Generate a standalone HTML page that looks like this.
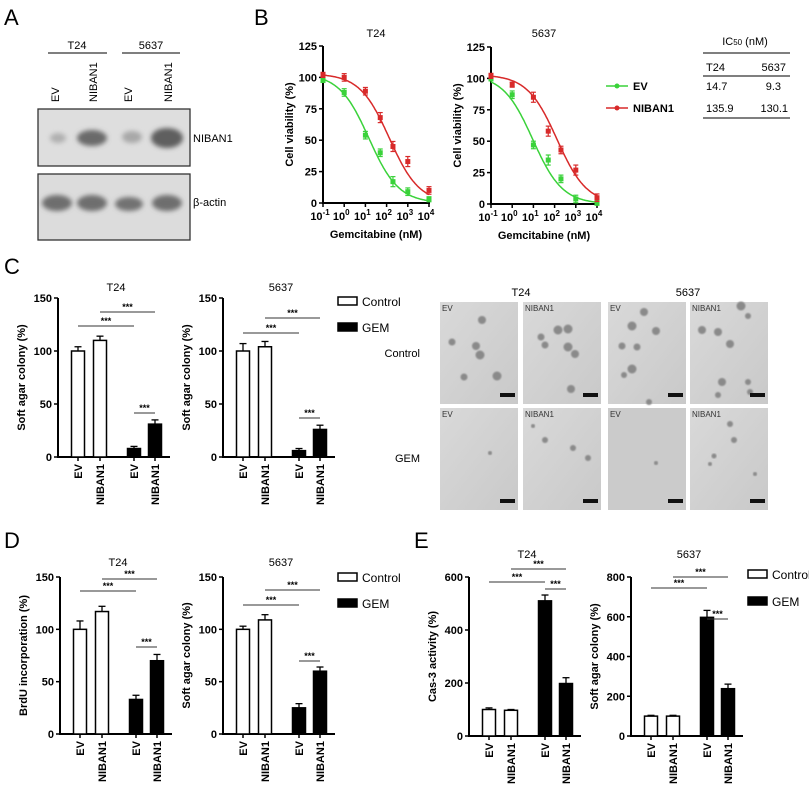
<!DOCTYPE html>
<html><head><meta charset="utf-8"><style>
body{margin:0;background:#fff}
svg{display:block;font-family:"Liberation Sans",Arial,sans-serif}
.tk{font-size:11px;font-weight:bold}
.al{font-size:11px;font-weight:bold}
.tt{font-size:11px}
.pl{font-size:22px}
</style></head><body>
<svg id="fig" width="809" height="788" viewBox="0 0 809 788" xmlns="http://www.w3.org/2000/svg">
<defs>
<filter id="bl" x="-50%" y="-50%" width="200%" height="200%"><feGaussianBlur stdDeviation="2.5"/></filter>
<filter id="bl1"><feGaussianBlur stdDeviation="0.8"/></filter>
<linearGradient id="tileg" x1="0" y1="0" x2="1" y2="1"><stop offset="0" stop-color="#d9d9d9"/><stop offset="1" stop-color="#c9c9c9"/></linearGradient>
</defs>
<g>
<text class="pl" x="4" y="25">A</text>
<text class="tt" x="77" y="49" text-anchor="middle">T24</text>
<line x1="48" y1="53" x2="107" y2="53" stroke="#333" stroke-width="1.2"/>
<text class="tt" x="151" y="49" text-anchor="middle">5637</text>
<line x1="122" y1="53" x2="180" y2="53" stroke="#333" stroke-width="1.2"/>
<text class="tt" transform="translate(59,102) rotate(-90)">EV</text>
<text class="tt" transform="translate(97,102) rotate(-90)">NIBAN1</text>
<text class="tt" transform="translate(132,102) rotate(-90)">EV</text>
<text class="tt" transform="translate(172,102) rotate(-90)">NIBAN1</text>
<g>
<rect x="38" y="109" width="152" height="57" fill="#dedede" stroke="#333" stroke-width="1.3"/>
<ellipse cx="58" cy="138" rx="8" ry="5" fill="#b0b0b0" filter="url(#bl)"/>
<ellipse cx="92" cy="138" rx="15" ry="8" fill="#6a6a6a" filter="url(#bl)"/>
<ellipse cx="132" cy="137" rx="10" ry="6" fill="#a8a8a8" filter="url(#bl)"/>
<ellipse cx="167" cy="138" rx="16" ry="10" fill="#5e5e5e" filter="url(#bl)"/>
</g>
<text class="tt" x="193" y="142">NIBAN1</text>
<g>
<rect x="38" y="174" width="152" height="66" fill="#dcdcdc" stroke="#333" stroke-width="1.3"/>
<ellipse cx="57" cy="203" rx="15" ry="8" fill="#6e6e6e" filter="url(#bl)"/>
<ellipse cx="92" cy="203" rx="15" ry="8" fill="#6e6e6e" filter="url(#bl)"/>
<ellipse cx="129" cy="204" rx="14" ry="7" fill="#727272" filter="url(#bl)"/>
<ellipse cx="167" cy="203" rx="15" ry="8" fill="#6e6e6e" filter="url(#bl)"/>
</g>
<text class="tt" x="193" y="206">β-actin</text>
</g>
<text class="pl" x="254" y="25">B</text>
<text class="pl" x="4" y="274">C</text>
<text class="pl" x="4" y="548">D</text>
<text class="pl" x="414" y="548">E</text>
<g>
<text class="tt" x="745" y="45" text-anchor="middle">IC<tspan font-size="8">50</tspan> (nM)</text>
<line x1="703" y1="53" x2="790" y2="53" stroke="#333" stroke-width="1.3"/>
<text class="tt" x="706" y="71">T24</text><text class="tt" x="786" y="71" text-anchor="end">5637</text>
<line x1="703" y1="76" x2="790" y2="76" stroke="#333" stroke-width="1.3"/>
<text class="tt" x="706" y="90">14.7</text><text class="tt" x="781" y="90" text-anchor="end">9.3</text>
<text class="tt" x="706" y="112">135.9</text><text class="tt" x="788" y="112" text-anchor="end">130.1</text>
<line x1="703" y1="118" x2="790" y2="118" stroke="#333" stroke-width="1.3"/>
</g>
<g>
<line x1="606" y1="86" x2="628" y2="86" stroke="#3ad23a" stroke-width="1.5"/><circle cx="617" cy="86" r="2.5" fill="#3ad23a"/>
<text class="al" x="633" y="90">EV</text>
<line x1="606" y1="108" x2="628" y2="108" stroke="#d82a2a" stroke-width="1.5"/><circle cx="617" cy="108" r="2.5" fill="#d82a2a"/>
<text class="al" x="633" y="112">NIBAN1</text>
</g>
<g id="micro">
<text class="tt" x="521" y="296" text-anchor="middle">T24</text>
<text class="tt" x="688" y="296" text-anchor="middle">5637</text>
<text class="tt" x="420" y="357" text-anchor="end">Control</text>
<text class="tt" x="420" y="462" text-anchor="end">GEM</text>
</g>
</svg>
<script>
// ===== Panel B data =====
const bLogConc = [-1, 0, 1, 1.7, 2.3, 3, 4];
const bT24Ev = [98, 88, 54, 40, 17, 9, 3];
const bT24EvErr = [2, 3, 3, 3, 4, 3, 2];
const bT24Nib = [102, 100, 89, 68, 45, 33, 10];
const bT24NibErr = [2, 3, 3, 4, 4, 4, 3];
const b5637Ev = [100, 87, 47, 35, 20, 4, 1];
const b5637EvErr = [2, 3, 3, 4, 3, 3, 2];
const b5637Nib = [102, 95, 85, 58, 43, 27, 5];
const b5637NibErr = [2, 2, 4, 4, 3, 4, 3];
const bIC50T24 = [14.7, 135.9];
const bIC50_5637 = [9.3, 130.1];
const bYTicks = [0, 25, 50, 75, 100, 125];
const bXTicks = [-1, 0, 1, 2, 3, 4];
// ===== Bar data =====
const barCats = ["EV", "NIBAN1", "EV", "NIBAN1"];
const cT24 = [100, 110, 8, 31];
const cT24Err = [4, 4, 2, 4];
const c5637 = [100, 104, 6, 26];
const c5637Err = [7, 5, 2, 4];
const dT24 = [100, 117, 33, 70];
const dT24Err = [8, 5, 4, 6];
const d5637 = [100, 109, 25, 60];
const d5637Err = [3, 5, 4, 4];
const eT24 = [100, 97, 510, 198];
const eT24Err = [6, 3, 22, 22];
const e5637 = [100, 100, 597, 238];
const e5637Err = [4, 4, 35, 23];
const ticks150 = [0, 50, 100, 150];
const ticks600 = [0, 200, 400, 600];
const ticks800 = [0, 200, 400, 600, 800];

const NS = "http://www.w3.org/2000/svg";
const svg = document.getElementById('fig');
function el(tag, attrs, parent, txt) {
  const e = document.createElementNS(NS, tag);
  for (const k in attrs) e.setAttribute(k, attrs[k]);
  if (txt !== undefined) e.textContent = txt;
  (parent || svg).appendChild(e);
  return e;
}

function curveChart(ax, y0, ytop, title, ev, evErr, nib, nibErr, ic50, name) {
  const g = el('g', {});
  
  
  const dec = 21.2;
  const xs = l => ax + (l - bXTicks[0]) * dec;
  const ys = v => y0 - v * (y0 - ytop) / 125;
  const axEnd = xs(bXTicks[bXTicks.length - 1]);
  el('text', {class: 'tt', x: (ax + axEnd) / 2, y: 37, 'text-anchor': 'middle'}, g, title);
  el('line', {x1: ax, y1: y0, x2: ax, y2: ytop, stroke: '#000', 'stroke-width': 2}, g);
  el('line', {x1: ax - 1, y1: y0, x2: axEnd + 1, y2: y0, stroke: '#000', 'stroke-width': 2}, g);
  bYTicks.forEach(t => {
    el('line', {x1: ax - 4, y1: ys(t), x2: ax, y2: ys(t), stroke: '#000', 'stroke-width': 1.5}, g);
    el('text', {class: 'tk', x: ax - 6, y: ys(t) + 4, 'text-anchor': 'end'}, g, String(t));
  });
  bXTicks.forEach(t => {
    el('line', {x1: xs(t), y1: y0, x2: xs(t), y2: y0 + 4, stroke: '#000', 'stroke-width': 1.5}, g);
    const tx = el('text', {class: 'tk', x: xs(t) - 3, y: y0 + 17, 'text-anchor': 'middle'}, g, '10');
    el('tspan', {dy: -5, 'font-size': 8}, tx, String(t));
  });
  const yl = el('text', {class: 'al', transform: `translate(${ax - 30},${(y0 + ytop) / 2}) rotate(-90)`, 'text-anchor': 'middle'}, g, 'Cell viability (%)');
  
  
  const xl = el('text', {class: 'al', x: (ax + axEnd) / 2, y: y0 + 35, 'text-anchor': 'middle'}, g, 'Gemcitabine (nM)');
  
  
  const series = [[ev, evErr, ic50[0], '#3ad23a', 'ev'], [nib, nibErr, ic50[1], '#d82a2a', 'niban1']];
  series.forEach(([vals, errs, ic, col, nm]) => {
    const lic = Math.log10(ic);
    let d = '';
    for (let l = bXTicks[0]; l <= bXTicks[bXTicks.length - 1] + 1e-9; l += 0.05) {
      const v = 103 / (1 + Math.pow(10, 0.62 * (l - lic)));
      d += (d ? 'L' : 'M') + xs(l).toFixed(1) + ',' + ys(v).toFixed(1);
    }
    const p = el('path', {d: d, fill: 'none', stroke: col, 'stroke-width': 1.5}, g);
    
    
    vals.forEach((v, i) => {
      const x = xs(bLogConc[i]), y = ys(v), e = errs[i] * (y0 - ytop) / 125;
      el('line', {x1: x, y1: y - e, x2: x, y2: y + e, stroke: col, 'stroke-width': 1.2}, g);
      el('line', {x1: x - 2.5, y1: y - e, x2: x + 2.5, y2: y - e, stroke: col, 'stroke-width': 1.2}, g);
      el('line', {x1: x - 2.5, y1: y + e, x2: x + 2.5, y2: y + e, stroke: col, 'stroke-width': 1.2}, g);
      const c = el('rect', {x: x - 2.5, y: y - 2.5, width: 5, height: 5, fill: col}, g);
      
      
    });
  });
}
curveChart(323, 203, 46, 'T24', bT24Ev, bT24EvErr, bT24Nib, bT24NibErr, bIC50T24, 'chart-b-t24');
curveChart(491, 204, 47, '5637', b5637Ev, b5637EvErr, b5637Nib, b5637NibErr, bIC50_5637, 'chart-b-5637');

const barOffsets = [20, 42, 76, 97];
function barChart(ax, y0, ytop, ymax, ticks, title, titleY, ylabel, vals, errs, sig, name) {
  const g = el('g', {});
  
  
  const ys = v => y0 - v * (y0 - ytop) / ymax;
  const axEnd = ax + 112;
  el('text', {class: 'tt', x: ax + 58, y: titleY, 'text-anchor': 'middle'}, g, title);
  el('line', {x1: ax, y1: y0, x2: ax, y2: ytop, stroke: '#000', 'stroke-width': 2}, g);
  el('line', {x1: ax - 1, y1: y0, x2: axEnd, y2: y0, stroke: '#000', 'stroke-width': 2}, g);
  ticks.forEach(t => {
    el('line', {x1: ax - 4, y1: ys(t), x2: ax, y2: ys(t), stroke: '#000', 'stroke-width': 1.5}, g);
    el('text', {class: 'tk', x: ax - 6, y: ys(t) + 4, 'text-anchor': 'end'}, g, String(t));
  });
  const yl = el('text', {class: 'al', transform: `translate(${ax - 33},${(y0 + ytop) / 2}) rotate(-90)`, 'text-anchor': 'middle'}, g, ylabel);
  
  
  vals.forEach((v, i) => {
    const cx = ax + barOffsets[i];
    const fill = i < 2 ? '#fff' : '#000';
    const et = ys(v + errs[i]);
    el('line', {x1: cx, y1: ys(v), x2: cx, y2: et, stroke: '#000', 'stroke-width': 1.3}, g);
    el('line', {x1: cx - 3.5, y1: et, x2: cx + 3.5, y2: et, stroke: '#000', 'stroke-width': 1.3}, g);
    const b = el('rect', {x: cx - 6.5, y: ys(v), width: 13, height: y0 - ys(v), fill: fill, stroke: '#000', 'stroke-width': 1.5}, g);
    
    
    el('line', {x1: cx, y1: y0, x2: cx, y2: y0 + 4, stroke: '#000', 'stroke-width': 1.5}, g);
    el('text', {class: 'tk', transform: `translate(${cx + 4},${y0 + 7}) rotate(-90)`, 'text-anchor': 'end'}, g, barCats[i]);
  });
  sig.forEach(([i, j, y]) => {
    const x1 = ax + barOffsets[i], x2 = ax + barOffsets[j];
    el('line', {x1: x1, y1: y, x2: x2, y2: y, stroke: '#333', 'stroke-width': 0.9}, g);
    el('text', {x: (x1 + x2) / 2, y: y - 2, 'text-anchor': 'middle', 'font-size': 9, 'font-weight': 'bold'}, g, '***');
  });
}
function legend(x, y1, y2, name) {
  const g = el('g', {});
  
  
  el('rect', {x: x, y: y1 - 4, width: 19, height: 8, fill: '#fff', stroke: '#000', 'stroke-width': 1.5}, g);
  el('text', {x: x + 24, y: y1 + 5, 'font-size': 12}, g, 'Control');
  el('rect', {x: x, y: y2 - 4, width: 19, height: 8, fill: '#000', stroke: '#000', 'stroke-width': 1.5}, g);
  el('text', {x: x + 24, y: y2 + 5, 'font-size': 12}, g, 'GEM');
}
barChart(58, 457, 298, 150, ticks150, 'T24', 291, 'Soft agar colony (%)', cT24, cT24Err, [[0, 2, 326], [1, 3, 312], [2, 3, 413]], 'chart-c-t24');
barChart(223, 457, 298, 150, ticks150, '5637', 291, 'Soft agar colony (%)', c5637, c5637Err, [[0, 2, 333], [1, 3, 318], [2, 3, 418]], 'chart-c-5637');
legend(338, 301, 327, 'legend-c');
barChart(60, 734, 577, 150, ticks150, 'T24', 566, 'BrdU incorporation (%)', dT24, dT24Err, [[0, 2, 591], [1, 3, 579], [2, 3, 647]], 'chart-d-t24');
barChart(223, 734, 577, 150, ticks150, '5637', 566, 'Soft agar colony (%)', d5637, d5637Err, [[0, 2, 605], [1, 3, 590], [2, 3, 661]], 'chart-d-5637');
legend(338, 577, 603, 'legend-d');
barChart(469, 736, 577, 600, ticks600, 'T24', 558, 'Cas-3 activity (%)', eT24, eT24Err, [[0, 2, 582], [1, 3, 569], [2, 3, 589]], 'chart-e-t24');
barChart(631, 736, 577, 800, ticks800, '5637', 558, 'Soft agar colony (%)', e5637, e5637Err, [[0, 2, 588], [1, 3, 577], [2, 3, 619]], 'chart-e-5637');
legend(748, 574, 601, 'legend-e');

const micro = document.getElementById('micro');
const tileX = [440, 523, 608, 690];
const tileY = [302, 408];
const tileLab = ["EV", "NIBAN1", "EV", "NIBAN1"];
const colonies = [
  [[[42,18,4],[12,40,3.5],[36,44,4],[40,53,4.5],[24,75,3.5],[57,74,4.5]], [[35,28,4.5],[45,27,4.5],[18,35,3.5],[22,43,3.5],[45,45,4.5],[52,52,4],[48,87,4]], [[36,10,4],[24,24,4.5],[48,29,4],[14,44,3.5],[29,45,3.5],[24,67,4.5],[16,73,3],[41,100,3]], [[51,4,4.5],[58,14,3],[12,28,4],[28,30,4],[40,42,4],[32,80,4],[58,80,3],[60,90,3],[28,93,3]]],
  [[[50,45,2]], [[10,18,2],[22,32,3],[50,40,3],[65,50,3]], [[48,55,2]], [[40,16,3],[44,32,3],[24,48,2.5],[20,56,2],[65,66,2]]]
];
for (let r = 0; r < 2; r++) for (let c = 0; c < 4; c++) {
  const x = tileX[c], y = tileY[r];
  const t = el('rect', {x: x, y: y, width: 78, height: 102, fill: r === 1 && c === 2 ? '#cbcbcb' : 'url(#tileg)'}, micro);
  
  
  colonies[r][c].forEach(([cx, cy, rr]) => el('circle', {cx: x + cx, cy: y + cy, r: rr, fill: '#8a8a8a', filter: 'url(#bl1)'}, micro));
  el('text', {x: x + 2, y: y + 9, 'font-size': 8, fill: '#333'}, micro, tileLab[c]);
  const sb = el('rect', {x: x + 60, y: y + 91, width: 15, height: 4, fill: '#111'}, micro);
  
  
}
</script>
</body></html>
